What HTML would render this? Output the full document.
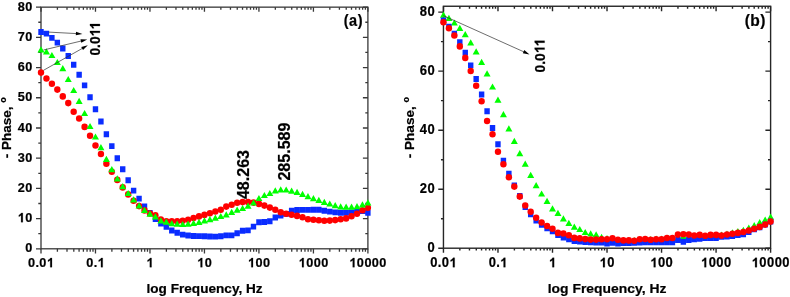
<!DOCTYPE html>
<html><head><meta charset="utf-8"><style>
html,body{margin:0;padding:0;background:#fff;}
svg{display:block;will-change:transform;}
text{font-family:"Liberation Sans",sans-serif;font-weight:bold;fill:#000;stroke:#000;stroke-width:0.22px;}
tspan.h{fill:none;stroke:none;}
path.g1{fill:#000;stroke:#000;stroke-width:0.22px;}
</style></head><body>
<svg width="790" height="297" viewBox="0 0 790 297">
<rect width="790" height="297" fill="#fff"/>
<rect x="41" y="7.15" width="326.9" height="241.65" fill="none" stroke="#383838" stroke-width="1.3"/>
<path d="M41 248.8v4.8M41 7.15v4.5M57.4 248.8v2.9M57.4 7.15v2.7M67 248.8v2.9M67 7.15v2.7M73.8 248.8v2.9M73.8 7.15v2.7M79.08 248.8v2.9M79.08 7.15v2.7M83.4 248.8v2.9M83.4 7.15v2.7M87.04 248.8v2.9M87.04 7.15v2.7M90.2 248.8v2.9M90.2 7.15v2.7M92.99 248.8v2.9M92.99 7.15v2.7M95.48 248.8v4.8M95.48 7.15v4.5M111.88 248.8v2.9M111.88 7.15v2.7M121.48 248.8v2.9M121.48 7.15v2.7M128.29 248.8v2.9M128.29 7.15v2.7M133.57 248.8v2.9M133.57 7.15v2.7M137.88 248.8v2.9M137.88 7.15v2.7M141.53 248.8v2.9M141.53 7.15v2.7M144.69 248.8v2.9M144.69 7.15v2.7M147.47 248.8v2.9M147.47 7.15v2.7M149.97 248.8v4.8M149.97 7.15v4.5M166.37 248.8v2.9M166.37 7.15v2.7M175.96 248.8v2.9M175.96 7.15v2.7M182.77 248.8v2.9M182.77 7.15v2.7M188.05 248.8v2.9M188.05 7.15v2.7M192.36 248.8v2.9M192.36 7.15v2.7M196.01 248.8v2.9M196.01 7.15v2.7M199.17 248.8v2.9M199.17 7.15v2.7M201.96 248.8v2.9M201.96 7.15v2.7M204.45 248.8v4.8M204.45 7.15v4.5M220.85 248.8v2.9M220.85 7.15v2.7M230.45 248.8v2.9M230.45 7.15v2.7M237.25 248.8v2.9M237.25 7.15v2.7M242.53 248.8v2.9M242.53 7.15v2.7M246.85 248.8v2.9M246.85 7.15v2.7M250.49 248.8v2.9M250.49 7.15v2.7M253.65 248.8v2.9M253.65 7.15v2.7M256.44 248.8v2.9M256.44 7.15v2.7M258.93 248.8v4.8M258.93 7.15v4.5M275.33 248.8v2.9M275.33 7.15v2.7M284.93 248.8v2.9M284.93 7.15v2.7M291.74 248.8v2.9M291.74 7.15v2.7M297.02 248.8v2.9M297.02 7.15v2.7M301.33 248.8v2.9M301.33 7.15v2.7M304.98 248.8v2.9M304.98 7.15v2.7M308.14 248.8v2.9M308.14 7.15v2.7M310.92 248.8v2.9M310.92 7.15v2.7M313.42 248.8v4.8M313.42 7.15v4.5M329.82 248.8v2.9M329.82 7.15v2.7M339.41 248.8v2.9M339.41 7.15v2.7M346.22 248.8v2.9M346.22 7.15v2.7M351.5 248.8v2.9M351.5 7.15v2.7M355.81 248.8v2.9M355.81 7.15v2.7M359.46 248.8v2.9M359.46 7.15v2.7M362.62 248.8v2.9M362.62 7.15v2.7M365.41 248.8v2.9M365.41 7.15v2.7M367.9 248.8v4.8M367.9 7.15v4.5M41 248.8h-5M367.9 248.8h-5M41 233.7h-2.7M367.9 233.7h-2.6M41 218.59h-5M367.9 218.59h-5M41 203.49h-2.7M367.9 203.49h-2.6M41 188.39h-5M367.9 188.39h-5M41 173.28h-2.7M367.9 173.28h-2.6M41 158.18h-5M367.9 158.18h-5M41 143.08h-2.7M367.9 143.08h-2.6M41 127.98h-5M367.9 127.98h-5M41 112.87h-2.7M367.9 112.87h-2.6M41 97.77h-5M367.9 97.77h-5M41 82.67h-2.7M367.9 82.67h-2.6M41 67.56h-5M367.9 67.56h-5M41 52.46h-2.7M367.9 52.46h-2.6M41 37.36h-5M367.9 37.36h-5M41 22.25h-2.7M367.9 22.25h-2.6M41 7.15h-5M367.9 7.15h-5" stroke="#383838" stroke-width="1.3" fill="none"/>
<path d="M38.3 29.05h5.4v5.9h-5.4zM43.75 30.65h5.4v5.9h-5.4zM49.2 34.95h5.4v5.9h-5.4zM54.64 39.65h5.4v5.9h-5.4zM60.09 45.55h5.4v5.9h-5.4zM65.54 53.05h5.4v5.9h-5.4zM70.99 61.75h5.4v5.9h-5.4zM76.44 71.75h5.4v5.9h-5.4zM81.89 82.45h5.4v5.9h-5.4zM87.33 94.25h5.4v5.9h-5.4zM92.78 106.25h5.4v5.9h-5.4zM98.23 118.55h5.4v5.9h-5.4zM103.68 131.35h5.4v5.9h-5.4zM109.13 143.15h5.4v5.9h-5.4zM114.58 155.35h5.4v5.9h-5.4zM120.02 166.25h5.4v5.9h-5.4zM125.47 177.25h5.4v5.9h-5.4zM130.92 187.65h5.4v5.9h-5.4zM136.37 195.65h5.4v5.9h-5.4zM141.82 203.45h5.4v5.9h-5.4zM147.27 210.05h5.4v5.9h-5.4zM152.72 216.05h5.4v5.9h-5.4zM158.16 220.55h5.4v5.9h-5.4zM163.61 223.85h5.4v5.9h-5.4zM169.06 227.55h5.4v5.9h-5.4zM174.51 229.75h5.4v5.9h-5.4zM179.96 231.65h5.4v5.9h-5.4zM185.4 232.55h5.4v5.9h-5.4zM190.85 233.05h5.4v5.9h-5.4zM196.3 233.15h5.4v5.9h-5.4zM201.75 233.35h5.4v5.9h-5.4zM207.2 233.55h5.4v5.9h-5.4zM212.65 233.65h5.4v5.9h-5.4zM218.09 233.35h5.4v5.9h-5.4zM223.54 232.45h5.4v5.9h-5.4zM228.99 232.45h5.4v5.9h-5.4zM234.44 230.35h5.4v5.9h-5.4zM239.89 227.85h5.4v5.9h-5.4zM245.34 227.45h5.4v5.9h-5.4zM250.78 223.65h5.4v5.9h-5.4zM256.23 219.35h5.4v5.9h-5.4zM261.68 219.05h5.4v5.9h-5.4zM267.13 218.25h5.4v5.9h-5.4zM272.58 214.55h5.4v5.9h-5.4zM278.03 212.65h5.4v5.9h-5.4zM283.47 210.95h5.4v5.9h-5.4zM288.92 207.75h5.4v5.9h-5.4zM294.37 207.05h5.4v5.9h-5.4zM299.82 206.95h5.4v5.9h-5.4zM305.27 206.95h5.4v5.9h-5.4zM310.72 206.85h5.4v5.9h-5.4zM316.16 206.75h5.4v5.9h-5.4zM321.61 207.85h5.4v5.9h-5.4zM327.06 208.65h5.4v5.9h-5.4zM332.51 209.45h5.4v5.9h-5.4zM337.96 209.85h5.4v5.9h-5.4zM343.41 209.85h5.4v5.9h-5.4zM348.85 209.45h5.4v5.9h-5.4zM354.3 208.65h5.4v5.9h-5.4zM359.75 208.15h5.4v5.9h-5.4zM365.2 209.85h5.4v5.9h-5.4z" fill="#0a2cff"/>
<ellipse cx="41" cy="72.6" rx="3.2" ry="3.3" fill="#ff0000"/>
<ellipse cx="46.45" cy="78.5" rx="3.2" ry="3.3" fill="#ff0000"/>
<ellipse cx="51.9" cy="83.8" rx="3.2" ry="3.3" fill="#ff0000"/>
<ellipse cx="57.34" cy="89.6" rx="3.2" ry="3.3" fill="#ff0000"/>
<ellipse cx="62.79" cy="96.4" rx="3.2" ry="3.3" fill="#ff0000"/>
<ellipse cx="68.24" cy="103.1" rx="3.2" ry="3.3" fill="#ff0000"/>
<ellipse cx="73.69" cy="111.7" rx="3.2" ry="3.3" fill="#ff0000"/>
<ellipse cx="79.14" cy="118.5" rx="3.2" ry="3.3" fill="#ff0000"/>
<ellipse cx="84.59" cy="126.9" rx="3.2" ry="3.3" fill="#ff0000"/>
<ellipse cx="90.03" cy="135.8" rx="3.2" ry="3.3" fill="#ff0000"/>
<ellipse cx="95.48" cy="145.5" rx="3.2" ry="3.3" fill="#ff0000"/>
<ellipse cx="100.93" cy="154" rx="3.2" ry="3.3" fill="#ff0000"/>
<ellipse cx="106.38" cy="163.7" rx="3.2" ry="3.3" fill="#ff0000"/>
<ellipse cx="111.83" cy="171.8" rx="3.2" ry="3.3" fill="#ff0000"/>
<ellipse cx="117.28" cy="179.9" rx="3.2" ry="3.3" fill="#ff0000"/>
<ellipse cx="122.72" cy="187.4" rx="3.2" ry="3.3" fill="#ff0000"/>
<ellipse cx="128.17" cy="194.4" rx="3.2" ry="3.3" fill="#ff0000"/>
<ellipse cx="133.62" cy="200.8" rx="3.2" ry="3.3" fill="#ff0000"/>
<ellipse cx="139.07" cy="206.1" rx="3.2" ry="3.3" fill="#ff0000"/>
<ellipse cx="144.52" cy="210.4" rx="3.2" ry="3.3" fill="#ff0000"/>
<ellipse cx="149.97" cy="213.5" rx="3.2" ry="3.3" fill="#ff0000"/>
<ellipse cx="155.41" cy="215.3" rx="3.2" ry="3.3" fill="#ff0000"/>
<ellipse cx="160.86" cy="219.5" rx="3.2" ry="3.3" fill="#ff0000"/>
<ellipse cx="166.31" cy="221.2" rx="3.2" ry="3.3" fill="#ff0000"/>
<ellipse cx="171.76" cy="221.4" rx="3.2" ry="3.3" fill="#ff0000"/>
<ellipse cx="177.21" cy="221.2" rx="3.2" ry="3.3" fill="#ff0000"/>
<ellipse cx="182.66" cy="220.7" rx="3.2" ry="3.3" fill="#ff0000"/>
<ellipse cx="188.1" cy="219.7" rx="3.2" ry="3.3" fill="#ff0000"/>
<ellipse cx="193.55" cy="218" rx="3.2" ry="3.3" fill="#ff0000"/>
<ellipse cx="199" cy="216.4" rx="3.2" ry="3.3" fill="#ff0000"/>
<ellipse cx="204.45" cy="214.9" rx="3.2" ry="3.3" fill="#ff0000"/>
<ellipse cx="209.9" cy="213.2" rx="3.2" ry="3.3" fill="#ff0000"/>
<ellipse cx="215.35" cy="211.5" rx="3.2" ry="3.3" fill="#ff0000"/>
<ellipse cx="220.79" cy="209.8" rx="3.2" ry="3.3" fill="#ff0000"/>
<ellipse cx="226.24" cy="206.6" rx="3.2" ry="3.3" fill="#ff0000"/>
<ellipse cx="231.69" cy="204.8" rx="3.2" ry="3.3" fill="#ff0000"/>
<ellipse cx="237.14" cy="202.8" rx="3.2" ry="3.3" fill="#ff0000"/>
<ellipse cx="242.59" cy="202.1" rx="3.2" ry="3.3" fill="#ff0000"/>
<ellipse cx="248.04" cy="202.1" rx="3.2" ry="3.3" fill="#ff0000"/>
<ellipse cx="253.48" cy="202.6" rx="3.2" ry="3.3" fill="#ff0000"/>
<ellipse cx="258.93" cy="203.9" rx="3.2" ry="3.3" fill="#ff0000"/>
<ellipse cx="264.38" cy="205.6" rx="3.2" ry="3.3" fill="#ff0000"/>
<ellipse cx="269.83" cy="207.6" rx="3.2" ry="3.3" fill="#ff0000"/>
<ellipse cx="275.28" cy="209.8" rx="3.2" ry="3.3" fill="#ff0000"/>
<ellipse cx="280.73" cy="212.3" rx="3.2" ry="3.3" fill="#ff0000"/>
<ellipse cx="286.17" cy="213.7" rx="3.2" ry="3.3" fill="#ff0000"/>
<ellipse cx="291.62" cy="214.8" rx="3.2" ry="3.3" fill="#ff0000"/>
<ellipse cx="297.07" cy="215.9" rx="3.2" ry="3.3" fill="#ff0000"/>
<ellipse cx="302.52" cy="217.2" rx="3.2" ry="3.3" fill="#ff0000"/>
<ellipse cx="307.97" cy="219.3" rx="3.2" ry="3.3" fill="#ff0000"/>
<ellipse cx="313.42" cy="219.8" rx="3.2" ry="3.3" fill="#ff0000"/>
<ellipse cx="318.86" cy="220.3" rx="3.2" ry="3.3" fill="#ff0000"/>
<ellipse cx="324.31" cy="220.7" rx="3.2" ry="3.3" fill="#ff0000"/>
<ellipse cx="329.76" cy="220.6" rx="3.2" ry="3.3" fill="#ff0000"/>
<ellipse cx="335.21" cy="220.1" rx="3.2" ry="3.3" fill="#ff0000"/>
<ellipse cx="340.66" cy="219.3" rx="3.2" ry="3.3" fill="#ff0000"/>
<ellipse cx="346.11" cy="218.4" rx="3.2" ry="3.3" fill="#ff0000"/>
<ellipse cx="351.55" cy="216.2" rx="3.2" ry="3.3" fill="#ff0000"/>
<ellipse cx="357" cy="213.7" rx="3.2" ry="3.3" fill="#ff0000"/>
<ellipse cx="362.45" cy="210.3" rx="3.2" ry="3.3" fill="#ff0000"/>
<ellipse cx="367.9" cy="207.8" rx="3.2" ry="3.3" fill="#ff0000"/>
<path d="M41 46.3L44.5 52.5L37.5 52.5zM46.45 48.2L49.95 54.4L42.95 54.4zM51.9 51.9L55.4 58.1L48.4 58.1zM57.34 58.9L60.84 65.1L53.84 65.1zM62.79 65.1L66.29 71.3L59.29 71.3zM68.24 75.9L71.74 82.1L64.74 82.1zM73.69 86.9L77.19 93.1L70.19 93.1zM79.14 97.8L82.64 104L75.64 104zM84.59 109.9L88.09 116.1L81.09 116.1zM90.03 122.9L93.53 129.1L86.53 129.1zM95.48 133.4L98.98 139.6L91.98 139.6zM100.93 144.1L104.43 150.3L97.43 150.3zM106.38 155.8L109.88 162L102.88 162zM111.83 166.1L115.33 172.3L108.33 172.3zM117.28 175.2L120.78 181.4L113.78 181.4zM122.72 183.1L126.22 189.3L119.22 189.3zM128.17 189.9L131.67 196.1L124.67 196.1zM133.62 196.3L137.12 202.5L130.12 202.5zM139.07 202.3L142.57 208.5L135.57 208.5zM144.52 206.8L148.02 213L141.02 213zM149.97 210.6L153.47 216.8L146.47 216.8zM155.41 213.2L158.91 219.4L151.91 219.4zM160.86 217.3L164.36 223.5L157.36 223.5zM166.31 218.6L169.81 224.8L162.81 224.8zM171.76 220L175.26 226.2L168.26 226.2zM177.21 220.5L180.71 226.7L173.71 226.7zM182.66 220.9L186.16 227.1L179.16 227.1zM188.1 220.5L191.6 226.7L184.6 226.7zM193.55 219.8L197.05 226L190.05 226zM199 218.7L202.5 224.9L195.5 224.9zM204.45 217.2L207.95 223.4L200.95 223.4zM209.9 216L213.4 222.2L206.4 222.2zM215.35 214.6L218.85 220.8L211.85 220.8zM220.79 212.9L224.29 219.1L217.29 219.1zM226.24 211.3L229.74 217.5L222.74 217.5zM231.69 208.7L235.19 214.9L228.19 214.9zM237.14 206.5L240.64 212.7L233.64 212.7zM242.59 204.9L246.09 211.1L239.09 211.1zM248.04 202.6L251.54 208.8L244.54 208.8zM253.48 199.4L256.99 205.6L249.98 205.6zM258.93 194.9L262.43 201.1L255.43 201.1zM264.38 191.9L267.88 198.1L260.88 198.1zM269.83 189.9L273.33 196.1L266.33 196.1zM275.28 187.2L278.78 193.4L271.78 193.4zM280.73 186.3L284.23 192.5L277.23 192.5zM286.17 186.4L289.67 192.6L282.67 192.6zM291.62 187.6L295.12 193.8L288.12 193.8zM297.07 188.8L300.57 195L293.57 195zM302.52 190.7L306.02 196.9L299.02 196.9zM307.97 193.1L311.47 199.3L304.47 199.3zM313.42 195L316.92 201.2L309.92 201.2zM318.86 196.7L322.36 202.9L315.36 202.9zM324.31 198.7L327.81 204.9L320.81 204.9zM329.76 200.4L333.26 206.6L326.26 206.6zM335.21 202.1L338.71 208.3L331.71 208.3zM340.66 203.2L344.16 209.4L337.16 209.4zM346.11 203.5L349.61 209.7L342.61 209.7zM351.55 203.5L355.05 209.7L348.05 209.7zM357 203L360.5 209.2L353.5 209.2zM362.45 201.3L365.95 207.5L358.95 207.5zM367.9 199.3L371.4 205.5L364.4 205.5z" fill="#00ff00"/>
<text transform="translate(41 267.2) scale(0.94 1.0)" x="-13.74 -5.87 -1.76 6.23" y="0" font-size="13.5" style="white-space:pre">0.0<tspan class="h">1</tspan></text><path class="g1" transform="translate(41 267.2) scale(0.94 1.0)" d="M9.82 0 L9.82 -6.91 L9.23 -6.37 L8.4 -5.89 L7.43 -5.49 L7.43 -7.12 L8.47 -7.59 L9.38 -8.32 L10.04 -9.29 L11.67 -9.29 L11.67 0Z"/>
<text transform="translate(95.48 267.2) scale(0.94 1.0)" x="-9.74 -1.88 2.23" y="0" font-size="13.5" style="white-space:pre">0.<tspan class="h">1</tspan></text><path class="g1" transform="translate(95.48 267.2) scale(0.94 1.0)" d="M5.83 0 L5.83 -6.91 L5.23 -6.37 L4.41 -5.89 L3.43 -5.49 L3.43 -7.12 L4.48 -7.59 L5.39 -8.32 L6.04 -9.29 L7.68 -9.29 L7.68 0Z"/>
<text transform="translate(149.97 267.2) scale(0.94 1.0)" x="-3.75" y="0" font-size="13.5" style="white-space:pre"><tspan class="h">1</tspan></text><path class="g1" transform="translate(149.97 267.2) scale(0.94 1.0)" d="M-0.16 0 L-0.16 -6.91 L-0.75 -6.37 L-1.58 -5.89 L-2.55 -5.49 L-2.55 -7.12 L-1.51 -7.59 L-0.6 -8.32 L0.06 -9.29 L1.69 -9.29 L1.69 0Z"/>
<text transform="translate(204.45 267.2) scale(0.94 1.0)" x="-7.75 0.24" y="0" font-size="13.5" style="white-space:pre"><tspan class="h">1</tspan>0</text><path class="g1" transform="translate(204.45 267.2) scale(0.94 1.0)" d="M-4.15 0 L-4.15 -6.91 L-4.75 -6.37 L-5.57 -5.89 L-6.55 -5.49 L-6.55 -7.12 L-5.51 -7.59 L-4.6 -8.32 L-3.94 -9.29 L-2.3 -9.29 L-2.3 0Z"/>
<text transform="translate(258.93 267.2) scale(0.94 1.0)" x="-11.74 -3.75 4.23" y="0" font-size="13.5" style="white-space:pre"><tspan class="h">1</tspan>00</text><path class="g1" transform="translate(258.93 267.2) scale(0.94 1.0)" d="M-8.15 0 L-8.15 -6.91 L-8.74 -6.37 L-9.57 -5.89 L-10.54 -5.49 L-10.54 -7.12 L-9.5 -7.59 L-8.59 -8.32 L-7.93 -9.29 L-6.3 -9.29 L-6.3 0Z"/>
<text transform="translate(313.42 267.2) scale(0.94 1.0)" x="-15.73 -7.75 0.24 8.23" y="0" font-size="13.5" style="white-space:pre"><tspan class="h">1</tspan>000</text><path class="g1" transform="translate(313.42 267.2) scale(0.94 1.0)" d="M-12.14 0 L-12.14 -6.91 L-12.74 -6.37 L-13.56 -5.89 L-14.53 -5.49 L-14.53 -7.12 L-13.49 -7.59 L-12.58 -8.32 L-11.92 -9.29 L-10.29 -9.29 L-10.29 0Z"/>
<text transform="translate(367.9 267.2) scale(0.94 1.0)" x="-19.73 -11.74 -3.75 4.23 12.22" y="0" font-size="13.5" style="white-space:pre"><tspan class="h">1</tspan>0000</text><path class="g1" transform="translate(367.9 267.2) scale(0.94 1.0)" d="M-16.14 0 L-16.14 -6.91 L-16.73 -6.37 L-17.55 -5.89 L-18.53 -5.49 L-18.53 -7.12 L-17.49 -7.59 L-16.58 -8.32 L-15.92 -9.29 L-14.28 -9.29 L-14.28 0Z"/>
<text transform="translate(32.5 252.4) scale(0.94 1.0)" x="-7.75" y="0" font-size="13.5" style="white-space:pre">0</text>
<text transform="translate(32.5 222.19) scale(0.94 1.0)" x="-15.73 -7.75" y="0" font-size="13.5" style="white-space:pre"><tspan class="h">1</tspan>0</text><path class="g1" transform="translate(32.5 222.19) scale(0.94 1.0)" d="M-12.14 0 L-12.14 -6.91 L-12.73 -6.37 L-13.56 -5.89 L-14.53 -5.49 L-14.53 -7.12 L-13.49 -7.59 L-12.58 -8.32 L-11.92 -9.29 L-10.29 -9.29 L-10.29 0Z"/>
<text transform="translate(32.5 191.99) scale(0.94 1.0)" x="-15.73 -7.75" y="0" font-size="13.5" style="white-space:pre">20</text>
<text transform="translate(32.5 161.78) scale(0.94 1.0)" x="-15.73 -7.75" y="0" font-size="13.5" style="white-space:pre">30</text>
<text transform="translate(32.5 131.58) scale(0.94 1.0)" x="-15.73 -7.75" y="0" font-size="13.5" style="white-space:pre">40</text>
<text transform="translate(32.5 101.37) scale(0.94 1.0)" x="-15.73 -7.75" y="0" font-size="13.5" style="white-space:pre">50</text>
<text transform="translate(32.5 71.16) scale(0.94 1.0)" x="-15.73 -7.75" y="0" font-size="13.5" style="white-space:pre">60</text>
<text transform="translate(32.5 40.96) scale(0.94 1.0)" x="-15.73 -7.75" y="0" font-size="13.5" style="white-space:pre">70</text>
<text transform="translate(32.5 10.75) scale(0.94 1.0)" x="-15.73 -7.75" y="0" font-size="13.5" style="white-space:pre">80</text>
<line x1="48.6" y1="32.1" x2="76.91" y2="33.61" stroke="#2e2e2e" stroke-width="0.7"/><path d="M82.4 33.9L75.81 35.35L76 31.76z" fill="#000"/>
<line x1="43.5" y1="50" x2="81.85" y2="40.87" stroke="#2e2e2e" stroke-width="0.7"/><path d="M87.2 39.6L81.29 42.86L80.46 39.35z" fill="#000"/>
<line x1="43.5" y1="70.3" x2="83.01" y2="48" stroke="#2e2e2e" stroke-width="0.7"/><path d="M87.8 45.3L83.02 50.06L81.25 46.93z" fill="#000"/>
<text transform="translate(99.9 55.6) rotate(-90) scale(1.02 1.07)" x="0 7.51 11.26 18.77 25.53" y="0" font-size="13.5" style="white-space:pre">0.0<tspan class="h">1</tspan><tspan class="h">1</tspan></text><path class="g1" transform="translate(99.9 55.6) rotate(-90) scale(1.02 1.07)" d="M22.36 0 L22.36 -6.91 L21.76 -6.37 L20.94 -5.89 L19.96 -5.49 L19.96 -7.12 L21.01 -7.59 L21.92 -8.32 L22.58 -9.29 L24.21 -9.29 L24.21 0ZM29.12 0 L29.12 -6.91 L28.53 -6.37 L27.71 -5.89 L26.73 -5.49 L26.73 -7.12 L27.77 -7.59 L28.68 -8.32 L29.34 -9.29 L30.97 -9.29 L30.97 0Z"/>
<text transform="translate(248.8 199.1) rotate(-90) scale(1.07 1.05)" x="0 8.34 16.68 20.85 29.19 37.54" y="0" font-size="15" style="white-space:pre">48.263</text>
<text transform="translate(289.6 180.6) rotate(-90) scale(1.07 1.05)" x="0 8.34 16.68 25.03 29.19 37.54 45.88" y="0" font-size="15" style="white-space:pre">285.589</text>
<text transform="translate(343.6 25.9) scale(0.93 1.0)" x="0.2 5.91 15.11" y="0" font-size="15.6" style="white-space:pre">(a)</text>
<text transform="translate(204.55 292.8) scale(1 0.97)" x="-58.06 -54.28 -45.97 -37.67 -33.89 -25.58 -20.29 -12.72 -4.42 3.89 11.45 19.76 27.33 33.88 37.66 41.44 51.26" y="0" font-size="13.6" style="white-space:pre">log Frequency, Hz</text>
<text transform="translate(11.2 158.3) rotate(-90) scale(1 1.0)" x="0 4.5 8.25 17.25 25.5 33 40.51 48.02 51.77" y="0" font-size="13.5" style="white-space:pre">- Phase, <tspan x="55.52" y="-5.2" font-size="9.0">o</tspan></text>
<rect x="443.45" y="6.25" width="327.15" height="241.95" fill="none" stroke="#262626" stroke-width="1.4"/>
<path d="M443.45 248.2v4.5M443.45 6.25v5.0M459.86 248.2v2.3M459.86 6.25v2.4M469.47 248.2v2.3M469.47 6.25v2.4M476.28 248.2v2.3M476.28 6.25v2.4M481.56 248.2v2.3M481.56 6.25v2.4M485.88 248.2v2.3M485.88 6.25v2.4M489.53 248.2v2.3M489.53 6.25v2.4M492.69 248.2v2.3M492.69 6.25v2.4M495.48 248.2v2.3M495.48 6.25v2.4M497.98 248.2v4.5M497.98 6.25v5.0M514.39 248.2v2.3M514.39 6.25v2.4M523.99 248.2v2.3M523.99 6.25v2.4M530.8 248.2v2.3M530.8 6.25v2.4M536.09 248.2v2.3M536.09 6.25v2.4M540.4 248.2v2.3M540.4 6.25v2.4M544.05 248.2v2.3M544.05 6.25v2.4M547.22 248.2v2.3M547.22 6.25v2.4M550.01 248.2v2.3M550.01 6.25v2.4M552.5 248.2v4.5M552.5 6.25v5.0M568.91 248.2v2.3M568.91 6.25v2.4M578.52 248.2v2.3M578.52 6.25v2.4M585.33 248.2v2.3M585.33 6.25v2.4M590.61 248.2v2.3M590.61 6.25v2.4M594.93 248.2v2.3M594.93 6.25v2.4M598.58 248.2v2.3M598.58 6.25v2.4M601.74 248.2v2.3M601.74 6.25v2.4M604.53 248.2v2.3M604.53 6.25v2.4M607.02 248.2v4.5M607.02 6.25v5.0M623.44 248.2v2.3M623.44 6.25v2.4M633.04 248.2v2.3M633.04 6.25v2.4M639.85 248.2v2.3M639.85 6.25v2.4M645.14 248.2v2.3M645.14 6.25v2.4M649.45 248.2v2.3M649.45 6.25v2.4M653.1 248.2v2.3M653.1 6.25v2.4M656.27 248.2v2.3M656.27 6.25v2.4M659.06 248.2v2.3M659.06 6.25v2.4M661.55 248.2v4.5M661.55 6.25v5.0M677.96 248.2v2.3M677.96 6.25v2.4M687.57 248.2v2.3M687.57 6.25v2.4M694.38 248.2v2.3M694.38 6.25v2.4M699.66 248.2v2.3M699.66 6.25v2.4M703.98 248.2v2.3M703.98 6.25v2.4M707.63 248.2v2.3M707.63 6.25v2.4M710.79 248.2v2.3M710.79 6.25v2.4M713.58 248.2v2.3M713.58 6.25v2.4M716.08 248.2v4.5M716.08 6.25v5.0M732.49 248.2v2.3M732.49 6.25v2.4M742.09 248.2v2.3M742.09 6.25v2.4M748.9 248.2v2.3M748.9 6.25v2.4M754.19 248.2v2.3M754.19 6.25v2.4M758.5 248.2v2.3M758.5 6.25v2.4M762.15 248.2v2.3M762.15 6.25v2.4M765.32 248.2v2.3M765.32 6.25v2.4M768.11 248.2v2.3M768.11 6.25v2.4M770.6 248.2v4.5M770.6 6.25v5.0M443.45 248.2h-5.2M770.6 248.2h-5.2M443.45 218.69h-2.5M770.6 218.69h-2.6M443.45 189.19h-5.2M770.6 189.19h-5.2M443.45 159.68h-2.5M770.6 159.68h-2.6M443.45 130.18h-5.2M770.6 130.18h-5.2M443.45 100.67h-2.5M770.6 100.67h-2.6M443.45 71.16h-5.2M770.6 71.16h-5.2M443.45 41.66h-2.5M770.6 41.66h-2.6M443.45 12.15h-5.2M770.6 12.15h-5.2" stroke="#262626" stroke-width="1.4" fill="none"/>
<path d="M443.45 11.6L446.95 17.8L439.95 17.8zM448.9 14.7L452.4 20.9L445.4 20.9zM454.36 19.4L457.86 25.6L450.86 25.6zM459.81 24.8L463.31 31L456.31 31zM465.26 31.1L468.76 37.3L461.76 37.3zM470.71 39.3L474.21 45.5L467.21 45.5zM476.16 48.2L479.66 54.4L472.66 54.4zM481.62 58.8L485.12 65L478.12 65zM487.07 70.3L490.57 76.5L483.57 76.5zM492.52 83.4L496.02 89.6L489.02 89.6zM497.97 96.5L501.47 102.7L494.47 102.7zM503.43 111L506.93 117.2L499.93 117.2zM508.88 125.2L512.38 131.4L505.38 131.4zM514.33 137.7L517.83 143.9L510.83 143.9zM519.78 150L523.28 156.2L516.28 156.2zM525.24 160.6L528.74 166.8L521.74 166.8zM530.69 171.7L534.19 177.9L527.19 177.9zM536.14 182L539.64 188.2L532.64 188.2zM541.6 190.4L545.1 196.6L538.1 196.6zM547.05 197.7L550.55 203.9L543.55 203.9zM552.5 205.2L556 211.4L549 211.4zM557.95 209.7L561.45 215.9L554.45 215.9zM563.4 215.2L566.9 221.4L559.9 221.4zM568.86 219.7L572.36 225.9L565.36 225.9zM574.31 223.5L577.81 229.7L570.81 229.7zM579.76 225.9L583.26 232.1L576.26 232.1zM585.22 228.9L588.72 235.1L581.72 235.1zM590.67 230.2L594.17 236.4L587.17 236.4zM596.12 231.2L599.62 237.4L592.62 237.4zM601.57 233.8L605.07 240L598.07 240zM607.02 234.9L610.52 241.1L603.52 241.1zM612.48 236.4L615.98 242.6L608.98 242.6zM617.93 237.2L621.43 243.4L614.43 243.4zM623.38 237.7L626.88 243.9L619.88 243.9zM628.84 237.9L632.34 244.1L625.34 244.1zM634.29 237.1L637.79 243.3L630.79 243.3zM639.74 237.4L643.24 243.6L636.24 243.6zM645.19 236.9L648.69 243.1L641.69 243.1zM650.64 236L654.14 242.2L647.14 242.2zM656.1 235.6L659.6 241.8L652.6 241.8zM661.55 235.5L665.05 241.7L658.05 241.7zM667 235.4L670.5 241.6L663.5 241.6zM672.46 235.2L675.96 241.4L668.96 241.4zM677.91 234.9L681.41 241.1L674.41 241.1zM683.36 232.9L686.86 239.1L679.86 239.1zM688.81 234.4L692.31 240.6L685.31 240.6zM694.26 233.9L697.76 240.1L690.76 240.1zM699.72 233.4L703.22 239.6L696.22 239.6zM705.17 232.9L708.67 239.1L701.67 239.1zM710.62 232.5L714.12 238.7L707.12 238.7zM716.08 232.1L719.58 238.3L712.58 238.3zM721.53 231.5L725.03 237.7L718.03 237.7zM726.98 230.5L730.48 236.7L723.48 236.7zM732.43 229.2L735.93 235.4L728.93 235.4zM737.88 228L741.38 234.2L734.38 234.2zM743.34 226.8L746.84 233L739.84 233zM748.79 224.4L752.29 230.6L745.29 230.6zM754.24 222.1L757.74 228.3L750.74 228.3zM759.69 219.1L763.19 225.3L756.19 225.3zM765.15 216.4L768.65 222.6L761.65 222.6zM770.6 213.5L774.1 219.7L767.1 219.7z" fill="#00ff00"/>
<path d="M440.75 17.55h5.4v5.9h-5.4zM446.2 23.65h5.4v5.9h-5.4zM451.66 30.65h5.4v5.9h-5.4zM457.11 39.15h5.4v5.9h-5.4zM462.56 49.65h5.4v5.9h-5.4zM468.01 62.45h5.4v5.9h-5.4zM473.46 76.05h5.4v5.9h-5.4zM478.92 91.55h5.4v5.9h-5.4zM484.37 108.25h5.4v5.9h-5.4zM489.82 125.05h5.4v5.9h-5.4zM495.27 141.35h5.4v5.9h-5.4zM500.73 157.75h5.4v5.9h-5.4zM506.18 170.65h5.4v5.9h-5.4zM511.63 182.45h5.4v5.9h-5.4zM517.08 193.05h5.4v5.9h-5.4zM522.54 204.15h5.4v5.9h-5.4zM527.99 211.25h5.4v5.9h-5.4zM533.44 217.65h5.4v5.9h-5.4zM538.89 221.85h5.4v5.9h-5.4zM544.35 225.35h5.4v5.9h-5.4zM549.8 228.45h5.4v5.9h-5.4zM555.25 232.05h5.4v5.9h-5.4zM560.7 234.55h5.4v5.9h-5.4zM566.16 236.45h5.4v5.9h-5.4zM571.61 238.05h5.4v5.9h-5.4zM577.06 238.55h5.4v5.9h-5.4zM582.51 239.05h5.4v5.9h-5.4zM587.97 239.35h5.4v5.9h-5.4zM593.42 239.55h5.4v5.9h-5.4zM598.87 239.65h5.4v5.9h-5.4zM604.32 240.65h5.4v5.9h-5.4zM609.78 239.95h5.4v5.9h-5.4zM615.23 240.55h5.4v5.9h-5.4zM620.68 240.05h5.4v5.9h-5.4zM626.13 240.05h5.4v5.9h-5.4zM631.59 239.85h5.4v5.9h-5.4zM637.04 239.65h5.4v5.9h-5.4zM642.49 239.35h5.4v5.9h-5.4zM647.94 239.25h5.4v5.9h-5.4zM653.4 239.25h5.4v5.9h-5.4zM658.85 239.25h5.4v5.9h-5.4zM664.3 239.25h5.4v5.9h-5.4zM669.75 239.25h5.4v5.9h-5.4zM675.21 237.05h5.4v5.9h-5.4zM680.66 238.85h5.4v5.9h-5.4zM686.11 237.05h5.4v5.9h-5.4zM691.56 236.25h5.4v5.9h-5.4zM697.02 235.95h5.4v5.9h-5.4zM702.47 235.15h5.4v5.9h-5.4zM707.92 235.05h5.4v5.9h-5.4zM713.38 235.05h5.4v5.9h-5.4zM718.83 233.85h5.4v5.9h-5.4zM724.28 233.55h5.4v5.9h-5.4zM729.73 233.05h5.4v5.9h-5.4zM735.18 232.05h5.4v5.9h-5.4zM740.64 231.25h5.4v5.9h-5.4zM746.09 229.05h5.4v5.9h-5.4zM751.54 226.45h5.4v5.9h-5.4zM756.99 224.35h5.4v5.9h-5.4zM762.45 221.65h5.4v5.9h-5.4zM767.9 218.65h5.4v5.9h-5.4z" fill="#0a2cff"/>
<ellipse cx="443.45" cy="22.3" rx="3.2" ry="3.3" fill="#ff0000"/>
<ellipse cx="448.9" cy="28.2" rx="3.2" ry="3.3" fill="#ff0000"/>
<ellipse cx="454.36" cy="35.5" rx="3.2" ry="3.3" fill="#ff0000"/>
<ellipse cx="459.81" cy="46.4" rx="3.2" ry="3.3" fill="#ff0000"/>
<ellipse cx="465.26" cy="57.9" rx="3.2" ry="3.3" fill="#ff0000"/>
<ellipse cx="470.71" cy="71" rx="3.2" ry="3.3" fill="#ff0000"/>
<ellipse cx="476.16" cy="85.8" rx="3.2" ry="3.3" fill="#ff0000"/>
<ellipse cx="481.62" cy="101.3" rx="3.2" ry="3.3" fill="#ff0000"/>
<ellipse cx="487.07" cy="121" rx="3.2" ry="3.3" fill="#ff0000"/>
<ellipse cx="492.52" cy="134.3" rx="3.2" ry="3.3" fill="#ff0000"/>
<ellipse cx="497.97" cy="151.7" rx="3.2" ry="3.3" fill="#ff0000"/>
<ellipse cx="503.43" cy="164.2" rx="3.2" ry="3.3" fill="#ff0000"/>
<ellipse cx="508.88" cy="177.2" rx="3.2" ry="3.3" fill="#ff0000"/>
<ellipse cx="514.33" cy="186.6" rx="3.2" ry="3.3" fill="#ff0000"/>
<ellipse cx="519.78" cy="196.6" rx="3.2" ry="3.3" fill="#ff0000"/>
<ellipse cx="525.24" cy="205.5" rx="3.2" ry="3.3" fill="#ff0000"/>
<ellipse cx="530.69" cy="211.8" rx="3.2" ry="3.3" fill="#ff0000"/>
<ellipse cx="536.14" cy="217.7" rx="3.2" ry="3.3" fill="#ff0000"/>
<ellipse cx="541.6" cy="222.5" rx="3.2" ry="3.3" fill="#ff0000"/>
<ellipse cx="547.05" cy="226" rx="3.2" ry="3.3" fill="#ff0000"/>
<ellipse cx="552.5" cy="228.8" rx="3.2" ry="3.3" fill="#ff0000"/>
<ellipse cx="557.95" cy="232.9" rx="3.2" ry="3.3" fill="#ff0000"/>
<ellipse cx="563.4" cy="233.5" rx="3.2" ry="3.3" fill="#ff0000"/>
<ellipse cx="568.86" cy="235.2" rx="3.2" ry="3.3" fill="#ff0000"/>
<ellipse cx="574.31" cy="237.9" rx="3.2" ry="3.3" fill="#ff0000"/>
<ellipse cx="579.76" cy="238.4" rx="3.2" ry="3.3" fill="#ff0000"/>
<ellipse cx="585.22" cy="239.1" rx="3.2" ry="3.3" fill="#ff0000"/>
<ellipse cx="590.67" cy="239.6" rx="3.2" ry="3.3" fill="#ff0000"/>
<ellipse cx="596.12" cy="239.6" rx="3.2" ry="3.3" fill="#ff0000"/>
<ellipse cx="601.57" cy="239.2" rx="3.2" ry="3.3" fill="#ff0000"/>
<ellipse cx="607.02" cy="239.3" rx="3.2" ry="3.3" fill="#ff0000"/>
<ellipse cx="612.48" cy="238.2" rx="3.2" ry="3.3" fill="#ff0000"/>
<ellipse cx="617.93" cy="239.7" rx="3.2" ry="3.3" fill="#ff0000"/>
<ellipse cx="623.38" cy="240.4" rx="3.2" ry="3.3" fill="#ff0000"/>
<ellipse cx="628.84" cy="240.4" rx="3.2" ry="3.3" fill="#ff0000"/>
<ellipse cx="634.29" cy="240.8" rx="3.2" ry="3.3" fill="#ff0000"/>
<ellipse cx="639.74" cy="239.2" rx="3.2" ry="3.3" fill="#ff0000"/>
<ellipse cx="645.19" cy="239" rx="3.2" ry="3.3" fill="#ff0000"/>
<ellipse cx="650.64" cy="239.7" rx="3.2" ry="3.3" fill="#ff0000"/>
<ellipse cx="656.1" cy="239.3" rx="3.2" ry="3.3" fill="#ff0000"/>
<ellipse cx="661.55" cy="239.3" rx="3.2" ry="3.3" fill="#ff0000"/>
<ellipse cx="667" cy="238" rx="3.2" ry="3.3" fill="#ff0000"/>
<ellipse cx="672.46" cy="238" rx="3.2" ry="3.3" fill="#ff0000"/>
<ellipse cx="677.91" cy="234.6" rx="3.2" ry="3.3" fill="#ff0000"/>
<ellipse cx="683.36" cy="234.2" rx="3.2" ry="3.3" fill="#ff0000"/>
<ellipse cx="688.81" cy="234.6" rx="3.2" ry="3.3" fill="#ff0000"/>
<ellipse cx="694.26" cy="235.5" rx="3.2" ry="3.3" fill="#ff0000"/>
<ellipse cx="699.72" cy="234.9" rx="3.2" ry="3.3" fill="#ff0000"/>
<ellipse cx="705.17" cy="235.7" rx="3.2" ry="3.3" fill="#ff0000"/>
<ellipse cx="710.62" cy="234.9" rx="3.2" ry="3.3" fill="#ff0000"/>
<ellipse cx="716.08" cy="234.9" rx="3.2" ry="3.3" fill="#ff0000"/>
<ellipse cx="721.53" cy="235.6" rx="3.2" ry="3.3" fill="#ff0000"/>
<ellipse cx="726.98" cy="234.5" rx="3.2" ry="3.3" fill="#ff0000"/>
<ellipse cx="732.43" cy="233.8" rx="3.2" ry="3.3" fill="#ff0000"/>
<ellipse cx="737.88" cy="232.9" rx="3.2" ry="3.3" fill="#ff0000"/>
<ellipse cx="743.34" cy="232" rx="3.2" ry="3.3" fill="#ff0000"/>
<ellipse cx="748.79" cy="230.5" rx="3.2" ry="3.3" fill="#ff0000"/>
<ellipse cx="754.24" cy="228.8" rx="3.2" ry="3.3" fill="#ff0000"/>
<ellipse cx="759.69" cy="226.9" rx="3.2" ry="3.3" fill="#ff0000"/>
<ellipse cx="765.15" cy="224.6" rx="3.2" ry="3.3" fill="#ff0000"/>
<ellipse cx="770.6" cy="221.6" rx="3.2" ry="3.3" fill="#ff0000"/>
<text transform="translate(443.45 267.2) scale(0.94 1.0)" x="-14.04 -6 -1.8 6.37" y="0" font-size="13.8" style="white-space:pre">0.0<tspan class="h">1</tspan></text><path class="g1" transform="translate(443.45 267.2) scale(0.94 1.0)" d="M10.04 0 L10.04 -7.07 L9.43 -6.51 L8.59 -6.02 L7.59 -5.61 L7.59 -7.28 L8.66 -7.76 L9.59 -8.5 L10.26 -9.49 L11.93 -9.49 L11.93 0Z"/>
<text transform="translate(497.98 267.2) scale(0.94 1.0)" x="-9.96 -1.92 2.28" y="0" font-size="13.8" style="white-space:pre">0.<tspan class="h">1</tspan></text><path class="g1" transform="translate(497.98 267.2) scale(0.94 1.0)" d="M5.96 0 L5.96 -7.07 L5.35 -6.51 L4.51 -6.02 L3.51 -5.61 L3.51 -7.28 L4.58 -7.76 L5.51 -8.5 L6.18 -9.49 L7.85 -9.49 L7.85 0Z"/>
<text transform="translate(552.5 267.2) scale(0.94 1.0)" x="-3.84" y="0" font-size="13.8" style="white-space:pre"><tspan class="h">1</tspan></text><path class="g1" transform="translate(552.5 267.2) scale(0.94 1.0)" d="M-0.16 0 L-0.16 -7.07 L-0.77 -6.51 L-1.61 -6.02 L-2.61 -5.61 L-2.61 -7.28 L-1.55 -7.76 L-0.62 -8.5 L0.06 -9.49 L1.73 -9.49 L1.73 0Z"/>
<text transform="translate(607.02 267.2) scale(0.94 1.0)" x="-7.92 0.24" y="0" font-size="13.8" style="white-space:pre"><tspan class="h">1</tspan>0</text><path class="g1" transform="translate(607.02 267.2) scale(0.94 1.0)" d="M-4.25 0 L-4.25 -7.07 L-4.85 -6.51 L-5.7 -6.02 L-6.69 -5.61 L-6.69 -7.28 L-5.63 -7.76 L-4.7 -8.5 L-4.02 -9.49 L-2.35 -9.49 L-2.35 0Z"/>
<text transform="translate(661.55 267.2) scale(0.94 1.0)" x="-12 -3.84 4.33" y="0" font-size="13.8" style="white-space:pre"><tspan class="h">1</tspan>00</text><path class="g1" transform="translate(661.55 267.2) scale(0.94 1.0)" d="M-8.33 0 L-8.33 -7.07 L-8.94 -6.51 L-9.78 -6.02 L-10.78 -5.61 L-10.78 -7.28 L-9.71 -7.76 L-8.78 -8.5 L-8.11 -9.49 L-6.44 -9.49 L-6.44 0Z"/>
<text transform="translate(716.08 267.2) scale(0.94 1.0)" x="-16.08 -7.92 0.24 8.41" y="0" font-size="13.8" style="white-space:pre"><tspan class="h">1</tspan>000</text><path class="g1" transform="translate(716.08 267.2) scale(0.94 1.0)" d="M-12.41 0 L-12.41 -7.07 L-13.02 -6.51 L-13.86 -6.02 L-14.86 -5.61 L-14.86 -7.28 L-13.79 -7.76 L-12.86 -8.5 L-12.19 -9.49 L-10.52 -9.49 L-10.52 0Z"/>
<text transform="translate(770.6 267.2) scale(0.94 1.0)" x="-20.17 -12 -3.84 4.33 12.49" y="0" font-size="13.8" style="white-space:pre"><tspan class="h">1</tspan>0000</text><path class="g1" transform="translate(770.6 267.2) scale(0.94 1.0)" d="M-16.49 0 L-16.49 -7.07 L-17.1 -6.51 L-17.94 -6.02 L-18.94 -5.61 L-18.94 -7.28 L-17.88 -7.76 L-16.95 -8.5 L-16.27 -9.49 L-14.6 -9.49 L-14.6 0Z"/>
<text transform="translate(434.9 251.8) scale(0.94 1.0)" x="-7.92" y="0" font-size="13.8" style="white-space:pre">0</text>
<text transform="translate(434.9 192.79) scale(0.94 1.0)" x="-16.08 -7.92" y="0" font-size="13.8" style="white-space:pre">20</text>
<text transform="translate(434.9 133.78) scale(0.94 1.0)" x="-16.08 -7.92" y="0" font-size="13.8" style="white-space:pre">40</text>
<text transform="translate(434.9 74.76) scale(0.94 1.0)" x="-16.08 -7.92" y="0" font-size="13.8" style="white-space:pre">60</text>
<text transform="translate(434.9 15.75) scale(0.94 1.0)" x="-16.08 -7.92" y="0" font-size="13.8" style="white-space:pre">80</text>
<line x1="443.3" y1="15.6" x2="524.48" y2="52.14" stroke="#2e2e2e" stroke-width="0.7"/><path d="M529.5 54.4L522.83 53.37L524.31 50.09z" fill="#000"/>
<text transform="translate(544.6 72.4) rotate(-90) scale(1.02 1.07)" x="0 7.51 11.26 18.77 25.53" y="0" font-size="13.5" style="white-space:pre">0.0<tspan class="h">1</tspan><tspan class="h">1</tspan></text><path class="g1" transform="translate(544.6 72.4) rotate(-90) scale(1.02 1.07)" d="M22.36 0 L22.36 -6.91 L21.76 -6.37 L20.94 -5.89 L19.96 -5.49 L19.96 -7.12 L21.01 -7.59 L21.92 -8.32 L22.58 -9.29 L24.21 -9.29 L24.21 0ZM29.12 0 L29.12 -6.91 L28.53 -6.37 L27.71 -5.89 L26.73 -5.49 L26.73 -7.12 L27.77 -7.59 L28.68 -8.32 L29.34 -9.29 L30.97 -9.29 L30.97 0Z"/>
<text transform="translate(744.6 25.8) scale(0.95 1.0)" x="0.14 6.01 16.44" y="0" font-size="16.4" style="white-space:pre">(b)</text>
<text transform="translate(607.05 292.8) scale(1 0.97)" x="-59.34 -55.48 -46.99 -38.5 -34.63 -26.14 -20.73 -13 -4.51 3.98 11.71 20.2 27.93 34.63 38.49 42.35 52.39" y="0" font-size="13.9" style="white-space:pre">log Frequency, Hz</text>
<text transform="translate(414 158.3) rotate(-90) scale(1 1.0)" x="0 4.53 8.31 17.38 25.68 33.25 40.81 48.38 52.15" y="0" font-size="13.6" style="white-space:pre">- Phase, <tspan x="55.93" y="-5.2" font-size="9.0">o</tspan></text>
</svg>
</body></html>
